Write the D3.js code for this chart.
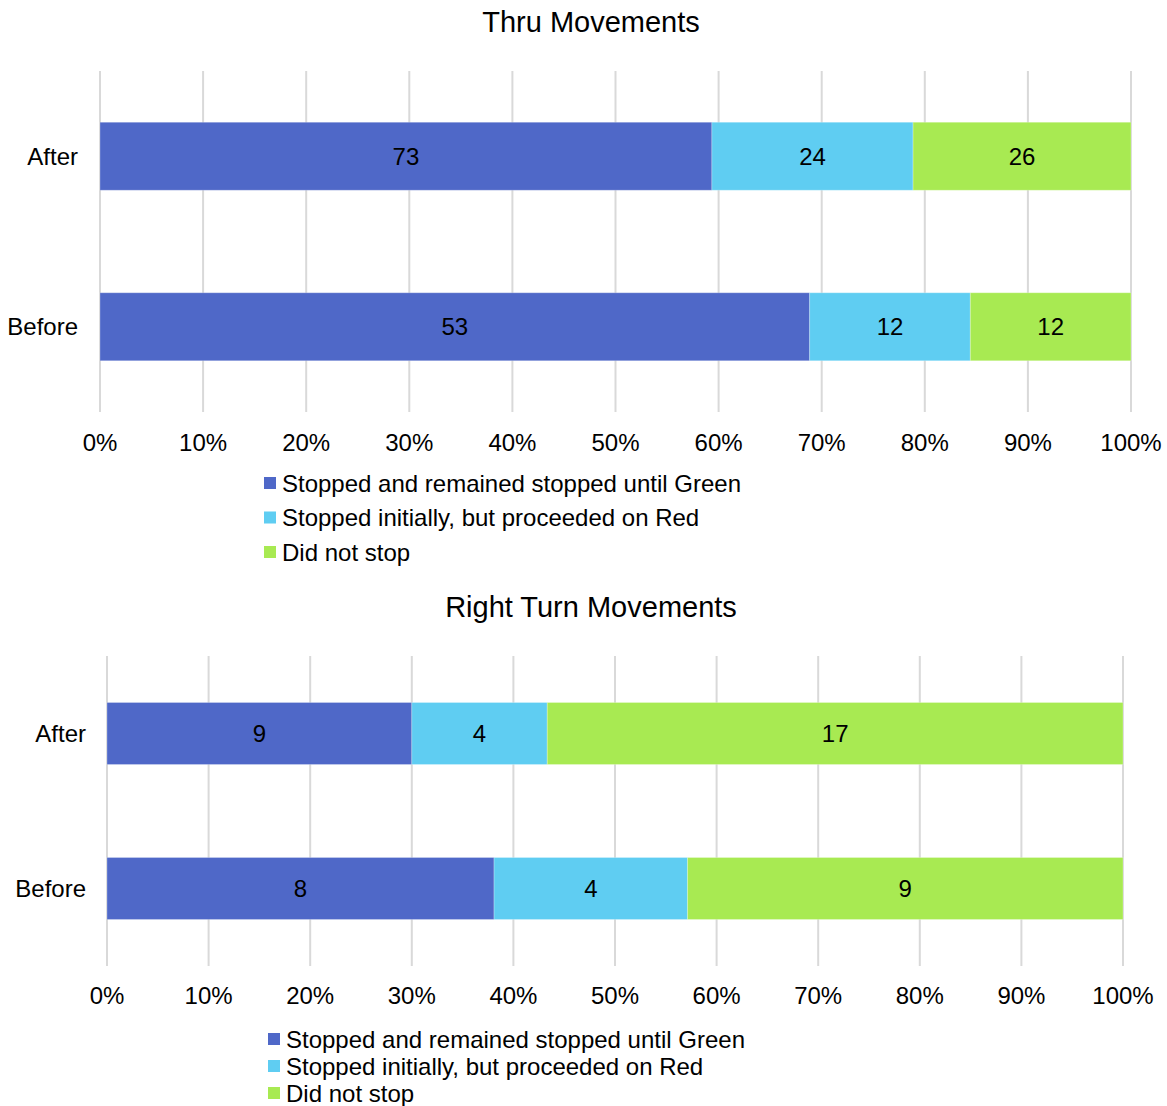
<!DOCTYPE html>
<html><head><meta charset="utf-8">
<script src="https://cdn.jsdelivr.net/npm/d3@7"></script>
<style>
body{margin:0;background:#fff;}
svg{display:block;font-family:"Liberation Sans",Arial,sans-serif;}
</style></head><body>
<svg id="chart" width="1167" height="1106"></svg>
<script>
const categories = ["After", "Before"];
const seriesNames = ["Stopped and remained stopped until Green", "Stopped initially, but proceeded on Red", "Did not stop"];
const thruStopped = [73, 53];
const thruRedRun = [24, 12];
const thruNoStop = [26, 12];
const rightStopped = [9, 8];
const rightRedRun = [4, 4];
const rightNoStop = [17, 9];
const tickValues = [0, 0.1, 0.2, 0.3, 0.4, 0.5, 0.6, 0.7, 0.8, 0.9, 1.0];
const tickLabels = ["0%", "10%", "20%", "30%", "40%", "50%", "60%", "70%", "80%", "90%", "100%"];
const titles = ["Thru Movements", "Right Turn Movements"];
const colors = ["#4F68C8", "#5FCDF2", "#A8EA52"];

const svg = d3.select("#chart");

function panel(title, series, L) {
  const g = svg.append("g");
  const x = d3.scaleLinear().domain([0, 1]).range([L.x0, L.x1]);
  const y = d3.scalePoint().domain(categories).range([L.gy0, L.gy1]).padding(0.5);
  const color = d3.scaleOrdinal().domain(seriesNames).range(colors);

  g.append("text").attr("x", L.titleX).attr("y", L.titleY).attr("text-anchor", "middle")
    .attr("dominant-baseline", "central").attr("font-size", L.titleSize).attr("fill", "#000").text(title);

  g.selectAll("line.grid").data(tickValues).join("line").attr("class", "grid")
    .attr("x1", d => x(d)).attr("x2", d => x(d)).attr("y1", L.gy0).attr("y2", L.gy1)
    .attr("stroke", "#d9d9d9").attr("stroke-width", 2);

  g.selectAll("text.tick").data(tickValues).join("text").attr("class", "tick")
    .attr("x", d => x(d)).attr("y", L.tickY).attr("text-anchor", "middle")
    .attr("dominant-baseline", "central").attr("font-size", L.fs).attr("fill", "#000")
    .text((d, i) => tickLabels[i]);

  g.selectAll("text.cat").data(categories).join("text").attr("class", "cat")
    .attr("x", L.catX).attr("y", d => y(d)).attr("text-anchor", "end")
    .attr("dominant-baseline", "central").attr("font-size", L.fs).attr("fill", "#000").text(d => d);

  const rows = categories.map((c, i) => {
    const r = { cat: c };
    seriesNames.forEach((s, j) => r[s] = series[j][i]);
    return r;
  });
  const stack = d3.stack().keys(seriesNames).offset(d3.stackOffsetExpand)(rows);

  const layers = g.selectAll("g.layer").data(stack).join("g").attr("class", "layer")
    .attr("fill", d => color(d.key));
  layers.selectAll("rect").data(d => d).join("rect")
    .attr("x", d => x(d[0])).attr("width", d => x(d[1]) - x(d[0]))
    .attr("y", d => y(d.data.cat) - L.barH / 2).attr("height", L.barH)
    .attr("stroke", "rgba(255,255,255,0.25)").attr("stroke-width", 1);
  layers.selectAll("text").data(d => d.map(v => ({ v, key: d.key }))).join("text")
    .attr("x", d => (x(d.v[0]) + x(d.v[1])) / 2).attr("y", d => y(d.v.data.cat))
    .attr("text-anchor", "middle").attr("dominant-baseline", "central")
    .attr("font-size", L.fs).attr("fill", "#000")
    .text(d => d.v.data[d.key]);

  const lg = g.append("g");
  seriesNames.forEach((s, i) => {
    const yy = L.legY + i * L.legStep;
    lg.append("rect").attr("x", L.legX).attr("y", yy - 6).attr("width", 12).attr("height", 12).attr("fill", color(s));
    lg.append("text").attr("x", L.legX + 18).attr("y", yy).attr("dominant-baseline", "central")
      .attr("font-size", L.fs).attr("fill", "#000").text(s);
  });
}

panel(titles[0], [thruStopped, thruRedRun, thruNoStop], {
  x0: 100, x1: 1131, gy0: 71, gy1: 412, barH: 68, catX: 78, tickY: 442,
  titleX: 591, titleY: 22, titleSize: 29, fs: 24, legX: 264, legY: 483, legStep: 34.5
});
panel(titles[1], [rightStopped, rightRedRun, rightNoStop], {
  x0: 107, x1: 1123, gy0: 656, gy1: 966, barH: 62, catX: 86, tickY: 995,
  titleX: 591, titleY: 607, titleSize: 29, fs: 24, legX: 268, legY: 1039, legStep: 27
});
</script>
</body></html>
